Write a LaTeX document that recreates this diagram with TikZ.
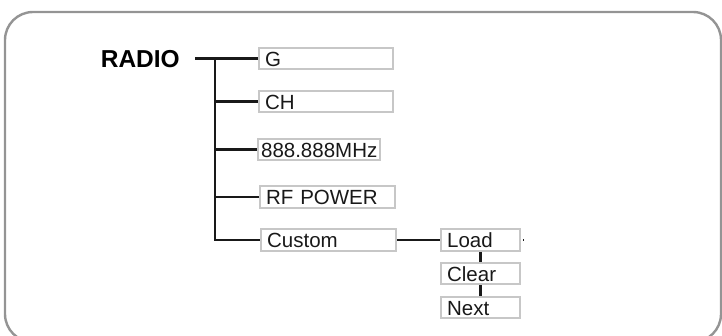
\documentclass[tikz,border=0pt]{standalone}
\usepackage{fontspec}
\setmainfont{Liberation Sans}
\begin{document}
\begin{tikzpicture} [x=1pt,y=-1pt,
        item/.style={rectangle,draw=black!22,line width=2.2pt,anchor=west,align=left,
                     inner xsep=6pt,inner ysep=0pt,text height=15pt,text depth=0pt,
                     minimum height=21.5pt,font=\fontsize{20.5}{24}\selectfont,text=black!90},
        link/.style={draw=black!90,line width=2.3pt},
        ]
\useasboundingbox (0,0) rectangle (722,335);
%frame
        \draw [ color = black!42, line width=2.4pt, rounded corners=28pt ] (5,12) rectangle (721,342);
%root
        \node[anchor=east,inner xsep=15pt,inner ysep=0pt,text height=17pt,text depth=0pt,
              font=\fontsize{24.5}{28}\selectfont\bfseries] (radio) at (195,59) {RADIO};
%items
        \node[item,text width=122pt] (g)      at (258,58.5)  {G};
        \node[item,text width=122pt] (ch)     at (258,101.5) {CH};
        \node[item,inner xsep=3pt]   (mhz)    at (257,149.5) {888.888MHz};
%        \node[item,text width=117pt] (mhz) at (257,149.5) {888.888MHz};
        \node[item,text width=123pt] (rf)     at (259,197)   {RF POWER};
        \node[item,text width=123pt] (custom) at (260,240)   {Custom};
        \node[item,text width=67pt]  (load)   at (440,240)   {Load};
        \node[item,text width=67pt]  (clear)  at (440,273.5) {Clear};
        \node[item,text width=67pt]  (next)   at (440,307.5) {Next};
        \coordinate (top)  at (215,58.5);
        \coordinate (stub) at (524,240);
        \draw [ link ] (radio.east |- g) -- (g);
        \draw [ link ] (top) |- (custom);
        \draw [ link ] (top |- ch)  -- (ch);
        \draw [ link ] (top |- mhz) -- (mhz);
        \draw [ link ] (top |- rf)  -- (rf);

        \draw [ link ] (custom) -- (load);
        \draw [ link ] ([xshift=2pt]load.east) -- (stub);
        \draw [ link ] (load)  -- (clear);
        \draw [ link ] (clear) -- (next);
% sub menu
    \end{tikzpicture}
\end{document}
